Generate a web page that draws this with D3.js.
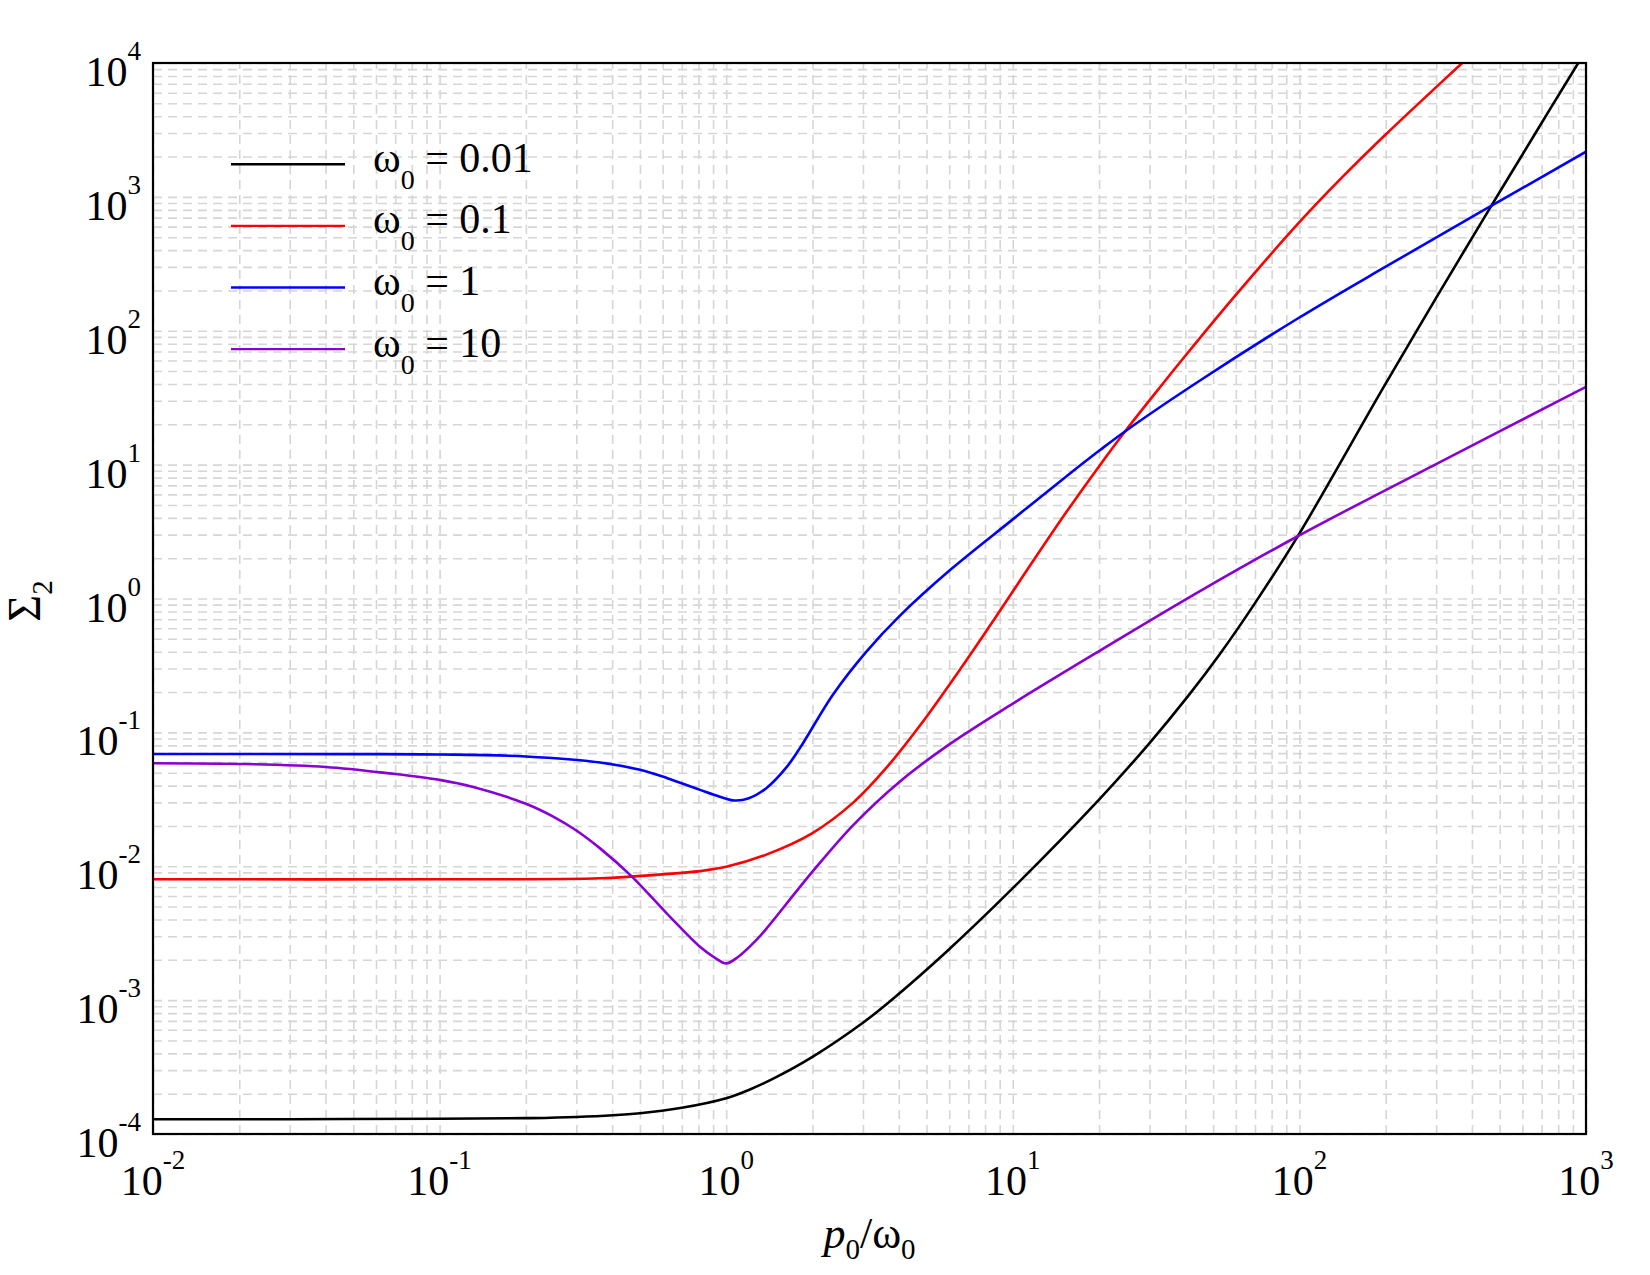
<!DOCTYPE html>
<html><head><meta charset="utf-8">
<script src="https://cdn.jsdelivr.net/npm/d3@7"></script>
<style>body{margin:0;background:#fff}svg{display:block}</style>
</head><body>
<svg id="chart" width="1650" height="1275"></svg>
<script>
// ---- data ----
const xTickExponents = ["-2","-1","0","1","2","3"];
const yTickExponents = ["-4","-3","-2","-1","0","1","2","3","4"];
const seriesLabels = ["0.01","0.1","1","10"];
const seriesColors = ["#000000","#ff0000","#0000ff","#8800d4"];

const omega001 = [[0.01,1.29e-4],[0.03,1.29e-4],[0.1,1.30e-4],[0.2,1.313e-4],[0.3,1.34e-4],[0.5,1.43e-4],[0.7,1.57e-4],[1,1.85e-4],[1.21,2.15e-4],[1.5,2.67e-4],[2,3.77e-4],[3,6.78e-4],[3.74,9.86e-4],[5.87,2.30e-3],[10,6.86e-3],[20.3,0.0326],[30,0.0832],[41,0.188],[52.8,0.385],[70,0.924],[99,2.95],[196,37.4],[300,176],[469,867],[700,3565],[927,9530],[1000,1.24e4]];
const omega01 = [[0.01,0.0080],[0.1,0.0080],[0.363,0.00813],[0.6,0.0087],[0.81,0.0092],[1,0.0099],[1.38,0.01222],[2,0.0177],[2.78,0.030],[3.63,0.0547],[4.75,0.113],[6.55,0.296],[9.02,0.81],[11.8,1.92],[15.4,4.44],[20.1,9.86],[24.9,18.2],[33,39],[40,65],[58.8,176],[100,647],[140,1380],[200,2925],[368,9910],[400,1.17e4]];
const omega1 = [[0.01,0.0689],[0.05,0.0688],[0.1,0.0684],[0.2,0.0661],[0.363,0.0596],[0.5,0.0525],[0.62,0.0457],[0.81,0.0372],[0.95,0.0331],[1.07,0.0310],[1.2,0.0322],[1.38,0.0383],[1.63,0.0555],[1.81,0.0766],[2.36,0.192],[3.09,0.403],[4.04,0.745],[6.04,1.63],[10,3.9],[15.4,8.2],[20.1,12.8],[24.9,18.0],[45,42.5],[99,124],[200,301],[1000,2177]];
const omega10 = [[0.01,0.0588],[0.02,0.0581],[0.04,0.0552],[0.067,0.0494],[0.1,0.0442],[0.131,0.0391],[0.2,0.0293],[0.25,0.0234],[0.3,0.0185],[0.363,0.0136],[0.468,0.00841],[0.62,0.00445],[0.81,0.0025],[0.92,0.00205],[1.0,0.00188],[1.1,0.0021],[1.28,0.00284],[1.38,0.00341],[2.01,0.00923],[2.78,0.0204],[4.04,0.043],[6.04,0.082],[10,0.164],[20.1,0.407],[45,1.135],[99,2.93],[300,10.1],[1000,38.1]];
const seriesData = [omega001, omega01, omega1, omega10];

// ---- layout ----
const M = {left:153, top:63, right:1586, bottom:1134};
const PW = M.right - M.left, PH = M.bottom - M.top;
const FONT = "Liberation Serif, Times New Roman, serif";
const svg = d3.select("#chart");

const x = d3.scaleLog().domain([1e-2,1e3]).range([M.left,M.right]);
const y = d3.scaleLog().domain([1e-4,1e4]).range([M.bottom,M.top]);

// grid values (1..9 per decade)
const xGrid = [], yGrid = [];
for (let k=-2;k<=2;k++) for (let i=1;i<=9;i++) xGrid.push(i*Math.pow(10,k));
xGrid.push(1e3);
for (let k=-4;k<=3;k++) for (let i=1;i<=9;i++) yGrid.push(i*Math.pow(10,k));
yGrid.push(1e4);

const gx = svg.append("g").attr("transform",`translate(0,${M.bottom})`)
  .call(d3.axisBottom(x).tickValues(xGrid).tickSize(-PH).tickFormat(""));
const gy = svg.append("g").attr("transform",`translate(${M.left},0)`)
  .call(d3.axisLeft(y).tickValues(yGrid).tickSize(-PW).tickFormat(""));
[gx,gy].forEach(g=>{
  g.select(".domain").remove();
  g.selectAll(".tick line").attr("stroke","#d6d6d6").attr("stroke-width",1.6).attr("stroke-dasharray","9,6");
  g.selectAll(".tick text").remove();
});

// curves
svg.append("clipPath").attr("id","plotclip").append("rect")
  .attr("x",M.left).attr("y",M.top).attr("width",PW).attr("height",PH);
const line = d3.line().x(d=>x(d[0])).y(d=>y(d[1])).curve(d3.curveCatmullRom.alpha(0.5));
const cg = svg.append("g").attr("clip-path","url(#plotclip)");
seriesData.forEach((data,i)=>{
  cg.append("path").datum(data).attr("d",line).attr("fill","none")
    .attr("stroke",seriesColors[i]).attr("stroke-width",2.6).attr("stroke-linejoin","round");
});

// frame
svg.append("rect").attr("x",M.left).attr("y",M.top).attr("width",PW).attr("height",PH)
  .attr("fill","none").attr("stroke","#000").attr("stroke-width",2.2);

// x tick labels
xTickExponents.forEach(e=>{
  const t = svg.append("text").attr("x",x(Math.pow(10,+e))).attr("y",M.bottom+61)
    .attr("text-anchor","middle").attr("font-family",FONT).attr("font-size",42).attr("fill","#000");
  t.append("tspan").text("10");
  t.append("tspan").attr("dy",-26).attr("font-size",27).text(e);
});
// y tick labels
yTickExponents.forEach(e=>{
  const t = svg.append("text").attr("x",141).attr("y",y(Math.pow(10,+e))+23)
    .attr("text-anchor","end").attr("font-family",FONT).attr("font-size",42).attr("fill","#000");
  t.append("tspan").text("10");
  t.append("tspan").attr("dy",-26).attr("font-size",27).text(e);
});

// axis titles
const xt = svg.append("text").attr("x",(M.left+M.right)/2).attr("y",1248)
  .attr("text-anchor","middle").attr("font-family",FONT).attr("font-size",44).attr("fill","#000");
xt.append("tspan").attr("font-style","italic").text("p");
xt.append("tspan").attr("dy",11).attr("font-size",29).text("0");
xt.append("tspan").attr("dy",-11).text("/ω");
xt.append("tspan").attr("dy",11).attr("font-size",29).text("0");

const yt = svg.append("text").attr("transform","translate(40,601) rotate(-90)")
  .attr("text-anchor","middle").attr("font-family",FONT).attr("font-size",46).attr("fill","#000");
yt.append("tspan").text("Σ");
yt.append("tspan").attr("dy",12).attr("font-size",29).text("2");

// legend
seriesLabels.forEach((lab,i)=>{
  const ly = 164.3 + i*61.6;
  svg.append("line").attr("x1",231).attr("x2",345).attr("y1",ly).attr("y2",ly)
    .attr("stroke",seriesColors[i]).attr("stroke-width",2.4);
  const t = svg.append("text").attr("x",373).attr("y",ly+7.5)
    .attr("font-family",FONT).attr("font-size",42).attr("fill","#000");
  t.append("tspan").text("ω");
  t.append("tspan").attr("dy",17).attr("font-size",28).text("0");
  t.append("tspan").attr("dy",-17).text(" = " + lab);
});
</script>
</body></html>
